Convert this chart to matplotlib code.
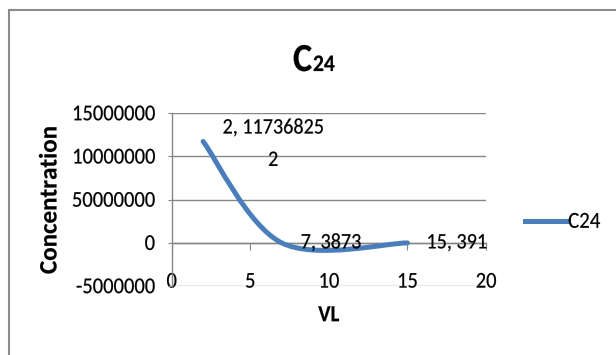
import matplotlib
matplotlib.use('Agg')
import matplotlib.pyplot as plt
from matplotlib.path import Path
from matplotlib.patches import PathPatch, Rectangle
from matplotlib.lines import Line2D
from matplotlib.patheffects import AbstractPathEffect
from matplotlib.transforms import Affine2D
import numpy as np

# ---- data ----
series_name = 'C24'
vl = [2, 7, 15]
conc = [11736825.2, 3873, 391]
point_labels = ['2, 11736825\n2', '7, 3873', '15, 391']
y_ticks = [-5000000, 0, 5000000, 10000000, 15000000]
y_tick_labels = ['-5000000', '0', '50000000', '10000000', '15000000']
x_ticks = [0, 5, 10, 15, 20]
x_tick_labels = ['0', '5', '10', '15', '20']

LINE = '#4A7EBB'
GRID = '#868686'
TXT = '#000000'
plt.rcParams['font.family'] = ['Carlito', 'Liberation Sans', 'DejaVu Sans']


class VStretch(AbstractPathEffect):
    """Stretch glyphs vertically about their baseline and thicken them slightly."""
    def __init__(self, s, lw=0.0):
        super().__init__()
        self._s = s
        self._lw = lw

    def draw_path(self, renderer, gc, tpath, affine, rgbFace=None):
        aff = Affine2D().scale(1, self._s) + affine
        if self._lw > 0 and rgbFace is not None:
            gc0 = renderer.new_gc()
            gc0.copy_properties(gc)
            gc0.set_linewidth(self._lw)
            gc0.set_foreground(rgbFace)
            renderer.draw_path(gc0, tpath, aff, rgbFace)
            gc0.restore()
        else:
            renderer.draw_path(gc, tpath, aff, rgbFace)


PE = [VStretch(1.1, 0.15)]
PE_B = [VStretch(1.0, 0.15)]

fig = plt.figure(figsize=(6.16, 3.55), dpi=100)
fig.patch.set_facecolor('white')
ax = fig.add_axes([0.2787, 0.194, 0.5103, 0.487])
ax.set_xlim(x_ticks[0], x_ticks[-1])
ax.set_ylim(y_ticks[0], y_ticks[-1])

# smoothed line (Excel-style Catmull-Rom bezier through the data points)
pts = np.column_stack([vl, conc]).astype(float)
n = len(pts)
verts = [pts[0]]
codes = [Path.MOVETO]
for i in range(n - 1):
    p_prev = pts[i - 1] if i > 0 else pts[i]
    p_next = pts[i + 2] if i + 2 < n else pts[i + 1]
    c1 = pts[i] + (pts[i + 1] - p_prev) / 6.0
    c2 = pts[i + 1] - (p_next - pts[i]) / 6.0
    verts += [c1, c2, pts[i + 1]]
    codes += [Path.CURVE4] * 3
ax.add_patch(PathPatch(Path(verts, codes), fill=False, edgecolor=LINE, lw=3.6,
                       capstyle='round', joinstyle='round', zorder=3))

# grid and axes
ax.set_yticks(y_ticks, y_tick_labels)
ax.set_xticks(x_ticks, x_tick_labels)
ax.yaxis.grid(True, color=GRID, lw=1.0)
ax.xaxis.grid(False)
ax.set_axisbelow(True)
for s in ['top', 'right', 'bottom']:
    ax.spines[s].set_visible(False)
ax.spines['left'].set_color(GRID)
ax.spines['left'].set_linewidth(1.0)
ax.tick_params(axis='y', direction='out', length=3, color=GRID, labelsize=14.8,
               pad=9, labelcolor=TXT)
ax.tick_params(axis='x', length=0, labelsize=14.8, pad=-9, labelcolor=TXT)
for t in ax.get_xticklabels() + ax.get_yticklabels():
    t.set_path_effects(PE)

# horizontal axis line at y = 0 with its tick marks
loc0 = (0 - y_ticks[0]) / (y_ticks[-1] - y_ticks[0])
sec = ax.secondary_xaxis(loc0)
sec.set_xticks(x_ticks)
sec.tick_params(axis='x', direction='out', length=5, color=GRID, labelbottom=False)
sec.spines['bottom'].set_color(GRID)
sec.spines['bottom'].set_linewidth(1.0)

# data labels (Excel "right" position)
ax.annotate(point_labels[0], (vl[0], conc[0]), xytext=(14, -2), textcoords='offset points',
            ha='left', va='center', multialignment='center', linespacing=2.1,
            fontsize=14.5, color=TXT, path_effects=PE)
for i in [1, 2]:
    ax.annotate(point_labels[i], (vl[i], conc[i]), xytext=(13.7, 0), textcoords='offset points',
                ha='left', va='center', fontsize=14.5, color=TXT, path_effects=PE)

# axis titles
ax.set_ylabel('Concentration', fontsize=18, fontweight='bold', path_effects=PE_B)
ax.yaxis.set_label_coords((50 - 171.7) / 314.3, (286 - 200) / 172.7)
ax.yaxis.label.set_va('center')
ax.set_xlabel('VL', fontsize=15, fontweight='bold', path_effects=PE)
ax.xaxis.set_label_coords(0.5, (286 - 315.5) / 172.7)
ax.xaxis.label.set_va('center')

# chart title
fig.text(293 / 616, 1 - 71 / 355, 'C', ha='left', va='baseline', fontsize=26,
         fontweight='bold', color=TXT, path_effects=PE)
fig.text(313 / 616, 1 - 71 / 355, '24', ha='left', va='baseline', fontsize=15.5,
         fontweight='bold', color=TXT, path_effects=PE)

# legend
leg = fig.legend(handles=[Line2D([], [], color=LINE, lw=3.6)], labels=[series_name],
                 loc='center left', bbox_to_anchor=(525 / 616, 1 - 222 / 355),
                 frameon=False, handlelength=2.07, handletextpad=0.0, borderpad=0,
                 borderaxespad=0, fontsize=15)
for t in leg.get_texts():
    t.set_path_effects(PE)

# chart border
fig.patches.append(Rectangle((8.5 / 616, -0.2), 1.5, 1.2 - 9.5 / 355, fill=False,
                             edgecolor='#8C8C8C', lw=1.5, transform=fig.transFigure,
                             figure=fig))

fig.savefig('out.png', dpi=100, facecolor='white')
